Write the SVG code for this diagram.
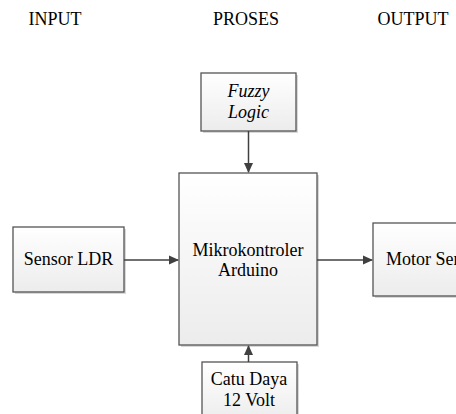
<svg xmlns="http://www.w3.org/2000/svg" width="456" height="414" viewBox="0 0 456 414">
<defs>
<linearGradient id="g" x1="0" y1="0" x2="0" y2="1">
<stop offset="0" stop-color="#ffffff"/>
<stop offset="1" stop-color="#ececec"/>
</linearGradient>
<marker id="ah" markerWidth="10" markerHeight="10" refX="9" refY="5" orient="auto" markerUnits="userSpaceOnUse">
<path d="M0,0.5 L10,5 L0,9.5 Z" fill="#404040"/>
</marker>
</defs>
<style>
text{font-family:"Liberation Serif","Times New Roman",serif;font-size:18px;fill:#000;text-anchor:middle}
.box{fill:url(#g);stroke:#555;stroke-width:1.3}
.sh{fill:#c8c8c8;opacity:0.7}
.c{stroke:#404040;stroke-width:1.5;fill:none;marker-end:url(#ah)}
.it{font-style:italic}
</style>
<rect width="456" height="414" fill="#fff"/>
<g id="headers">
<text x="55" y="25">INPUT</text>
<text x="246" y="25">PROSES</text>
<text x="413" y="25">OUTPUT</text>
</g>
<g id="fuzzy">
<rect class="sh" x="203" y="75" width="95" height="58"/>
<rect class="box" x="201" y="73" width="95" height="58"/>
<text class="it" x="248.5" y="97">Fuzzy</text>
<text class="it" x="248.5" y="118">Logic</text>
</g>
<g id="mikro">
<rect class="sh" x="181" y="175" width="138" height="172"/>
<rect class="box" x="179" y="173" width="138" height="172"/>
<text x="248" y="256">Mikrokontroler</text>
<text x="248" y="276">Arduino</text>
</g>
<g id="sensor">
<rect class="sh" x="15" y="229" width="111" height="65"/>
<rect class="box" x="13" y="227" width="111" height="65"/>
<text x="68.5" y="265">Sensor LDR</text>
</g>
<g id="motor">
<rect class="sh" x="375" y="225" width="100" height="73"/>
<rect class="box" x="373" y="223" width="100" height="73"/>
<text x="386" y="265" style="text-anchor:start">Motor Servo</text>
</g>
<g id="catu">
<rect class="sh" x="204" y="364" width="95" height="60"/>
<rect class="box" x="202" y="362" width="95" height="60"/>
<text x="249" y="385">Catu Daya</text>
<text x="249" y="406">12 Volt</text>
</g>
<g id="connectors">
<line class="c" x1="248.5" y1="131" x2="248.5" y2="172"/>
<line class="c" x1="124" y1="260" x2="178" y2="260"/>
<line class="c" x1="317" y1="260" x2="372" y2="260"/>
<line class="c" x1="248.5" y1="362" x2="248.5" y2="346"/>
</g>
</svg>
